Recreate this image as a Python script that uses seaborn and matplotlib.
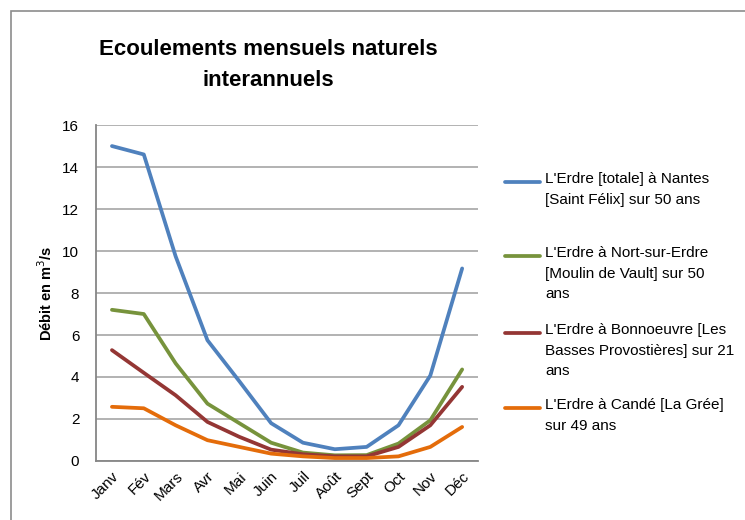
import numpy as np
import pandas as pd
import matplotlib
matplotlib.use('Agg')
import matplotlib.pyplot as plt
from matplotlib.lines import Line2D
from matplotlib.patches import Rectangle
import seaborn as sns

months = ['Janv', 'Fév', 'Mars', 'Avr', 'Mai', 'Juin', 'Juil', 'Août', 'Sept', 'Oct', 'Nov', 'Déc']

nantes = [15.0, 14.6, 9.75, 5.75, 3.8, 1.8, 0.87, 0.56, 0.67, 1.7, 4.07, 9.17]
nort = [7.2, 7.0, 4.65, 2.73, 1.8, 0.87, 0.4, 0.27, 0.28, 0.83, 1.94, 4.36]
bonnoeuvre = [5.28, 4.2, 3.13, 1.86, 1.15, 0.54, 0.32, 0.22, 0.22, 0.67, 1.7, 3.53]
cande = [2.58, 2.51, 1.7, 0.99, 0.67, 0.35, 0.22, 0.14, 0.14, 0.22, 0.67, 1.62]

labels = [
    "L'Erdre [totale] à Nantes\n[Saint Félix] sur 50 ans",
    "L'Erdre à Nort-sur-Erdre\n[Moulin de Vault] sur 50\nans",
    "L'Erdre à Bonnoeuvre [Les\nBasses Provostières] sur 21\nans",
    "L'Erdre à Candé [La Grée]\nsur 49 ans",
]
colors = ['#4F81BD', '#77933C', '#943634', '#E46C0A']

# long table for seaborn
df = pd.DataFrame({
    'mois': months * 4,
    'x': list(range(12)) * 4,
    'debit': nantes + nort + bonnoeuvre + cande,
    'station': [lab for lab in labels for _ in months],
})

sns.set_style('white')
plt.rcParams['font.family'] = ['Liberation Sans', 'DejaVu Sans']
plt.rcParams['text.color'] = 'black'
plt.rcParams['axes.labelcolor'] = 'black'
plt.rcParams['xtick.color'] = 'black'
plt.rcParams['ytick.color'] = 'black'

fig = plt.figure(figsize=(7.45, 5.2), dpi=100)
ax = fig.add_axes([0.1289, 0.1135, 0.5128, 0.646])

# chart frame, cropped at the right and bottom like the export
fig.add_artist(Rectangle((11 / 745, -0.1), 1.1, 1 - 11 / 520 + 0.1,
                         transform=fig.transFigure, fill=False,
                         edgecolor='#8c8c8c', linewidth=1.2))

sns.lineplot(data=df, x='x', y='debit', hue='station', palette=colors,
             linewidth=2.7, legend=False, ax=ax)

ax.set_xlim(-0.5, 11.5)
ax.set_ylim(0, 16)
ax.set_yticks(range(0, 17, 2))
ax.set_xticks(range(12))
ax.set_xticklabels(months, rotation=45, ha='right', rotation_mode='anchor', fontsize=11)
ax.tick_params(axis='y', labelsize=11, length=0, pad=12)
ax.tick_params(axis='x', length=0, pad=6)
ax.yaxis.grid(True, color='#a6a6a6', linewidth=1.2)
ax.set_axisbelow(True)
for side in ['top', 'right']:
    ax.spines[side].set_visible(False)
for side in ['left', 'bottom']:
    ax.spines[side].set_color('#868686')
    ax.spines[side].set_linewidth(1.3)
ax.set_xlabel('')
ax.set_ylabel('Débit en m$^3$/s', fontsize=10.5, fontweight='bold', labelpad=5)

fig.text(268 / 745, 1 - 65 / 520, 'Ecoulements mensuels naturels\ninterannuels', ha='center', va='center',
         fontsize=16, fontweight='bold', linespacing=1.65)

# legend drawn by hand so the handle sits on the first text line
ys = [182, 256, 333, 408]
for lab, col, y in zip(labels, colors, ys):
    yf = 1 - y / 520
    fig.add_artist(Line2D([505 / 745, 540 / 745], [yf, yf], transform=fig.transFigure,
                          color=col, linewidth=2.7))
    fig.text(545 / 745, yf + 10 / 520, lab, ha='left', va='top', fontsize=11,
             linespacing=1.6)

fig.savefig('out.png', dpi=100)
